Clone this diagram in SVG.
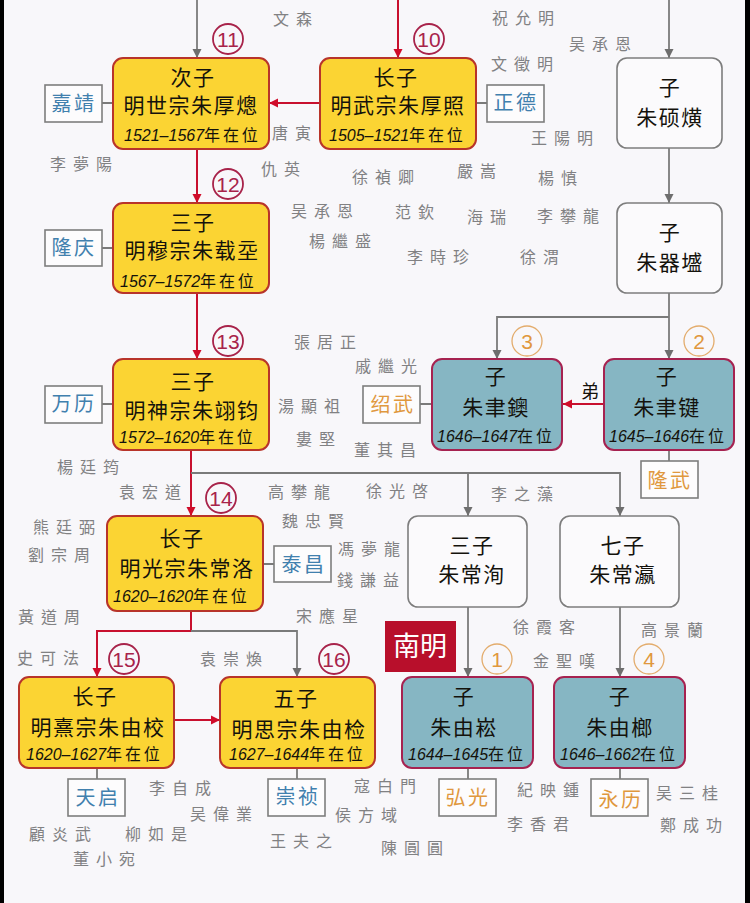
<svg xmlns="http://www.w3.org/2000/svg" width="750" height="903" viewBox="0 0 750 903">
<style>
text{font-family:"Noto Sans CJK SC","Noto Sans CJK TC",sans-serif}
.y{fill:#fbd433;stroke:#b8342a;stroke-width:2}
.t{fill:#86b6c3;stroke:#a62250;stroke-width:2}
.w{fill:#fbfafc;stroke:#7d7d7d;stroke-width:1.6}
.g{fill:none;stroke:#7a7a7a;stroke-width:1.8}
.r{fill:none;stroke:#c8102e;stroke-width:2}
.ag{marker-end:url(#mg)}
.ar{marker-end:url(#mr)}
.n{font-size:21px;letter-spacing:1.5px;text-anchor:middle;fill:#14120c}
.d{font-size:16px;fill:#14120c}
.d tspan{font-family:"Liberation Sans",sans-serif;font-style:italic}
.d .c{font-family:"Noto Sans CJK SC",sans-serif;font-style:normal;letter-spacing:2.8px}
.tag{fill:#fdfcfd;stroke:#7d7d7d;stroke-width:1.6}
.b{font-size:20px;letter-spacing:2.5px;text-anchor:middle;fill:#4180ae}
.o{font-size:20px;letter-spacing:2.5px;text-anchor:middle;fill:#e0983e}
.cr{fill:none;stroke:#a8234a;stroke-width:1.8}
.co{fill:none;stroke:#e3ac6c;stroke-width:1.3}
.cn{font-family:"Liberation Sans",sans-serif;font-size:21px;text-anchor:middle;fill:#a8234a}
.cno{font-family:"Liberation Sans",sans-serif;font-size:21px;text-anchor:middle;fill:#e0983e}
.p{font-family:"Noto Sans CJK TC","Noto Sans CJK SC",sans-serif;font-size:16px;letter-spacing:7px;fill:#818183}
</style>
<defs>
<marker id="mg" markerUnits="userSpaceOnUse" markerWidth="10" markerHeight="10" refX="9" refY="5" orient="auto"><path d="M0 0.5L9 5L0 9.5Z" fill="#6e6e6e"/></marker>
<marker id="mr" markerUnits="userSpaceOnUse" markerWidth="10" markerHeight="10" refX="9" refY="5" orient="auto"><path d="M0 0.5L9 5L0 9.5Z" fill="#d00c2a"/></marker>
</defs>
<rect width="750" height="903" fill="#f8f7fa"/>
<rect width="4" height="903" fill="#000"/>
<rect x="745" width="5" height="903" fill="#000"/>

<g id="connectors">
<path class="g ag" d="M197 0V58"/>
<path class="r ar" d="M398 0V58"/>
<path class="r ar" d="M320 103H269"/>
<path class="r ar" d="M197 149V203"/>
<path class="r ar" d="M197 293V359"/>
<path class="r ar" d="M191 450V516"/>
<path class="g ag" d="M191 473H468V516"/>
<path class="g ag" d="M468 473H620V516"/>
<path class="g ag" d="M669 0V58"/>
<path class="g ag" d="M669 148V203"/>
<path class="g ag" d="M669 293V359"/>
<path class="g ag" d="M669 317H497V359"/>
<path class="r ar" d="M604 404H563"/>
<path class="g" d="M669 450V461"/>
<path class="r" d="M191 611V631"/>
<path class="r ar" d="M191 631H97V677"/>
<path class="g ag" d="M191 631H297V677"/>
<path class="r ar" d="M174 720H220"/>
<path class="g ag" d="M468 607V677"/>
<path class="g ag" d="M620 607V677"/>
<path class="g" d="M102 103H113M476 103H487M102 248H113M102 404H113M263 564H274M420 404H432M97 768V779M297 768V779M468 768V779M620 768V779"/>
</g>

<g id="node-shizong"><rect class="y" x="113" y="58" width="156" height="91" rx="10"/><text class="n" x="193" y="85">次子</text><text class="n" x="191" y="113">明世宗朱厚熜</text><text class="d" x="124" y="141"><tspan>1521–1567</tspan><tspan class="c">年在位</tspan></text></g>
<g id="node-wuzong"><rect class="y" x="320" y="58" width="156" height="91" rx="10"/><text class="n" x="396" y="85">长子</text><text class="n" x="398" y="113">明武宗朱厚照</text><text class="d" x="329" y="141"><tspan>1505–1521</tspan><tspan class="c">年在位</tspan></text></g>
<g id="node-shuohuang"><rect class="w" x="617" y="58" width="105" height="90" rx="10"/><text class="n" x="670" y="95">子</text><text class="n" x="670" y="125">朱硕熿</text></g>
<g id="node-muzong"><rect class="y" x="113" y="203" width="156" height="90" rx="10"/><text class="n" x="193" y="230">三子</text><text class="n" x="192" y="258">明穆宗朱载坖</text><text class="d" x="120" y="287"><tspan>1567–1572</tspan><tspan class="c">年在位</tspan></text></g>
<g id="node-qicheng"><rect class="w" x="617" y="203" width="105" height="90" rx="10"/><text class="n" x="670" y="240">子</text><text class="n" x="670" y="270">朱器墭</text></g>
<g id="node-shenzong"><rect class="y" x="113" y="359" width="156" height="91" rx="10"/><text class="n" x="193" y="389">三子</text><text class="n" x="192" y="418">明神宗朱翊钧</text><text class="d" x="119" y="443"><tspan>1572–1620</tspan><tspan class="c">年在位</tspan></text></g>
<g id="node-yuyue"><rect class="t" x="432" y="359" width="130" height="91" rx="10"/><text class="n" x="496" y="384">子</text><text class="n" x="496" y="415">朱聿鐭</text><text class="d" x="437" y="442"><tspan>1646–1647</tspan><tspan class="c">在位</tspan></text></g>
<g id="node-yujian"><rect class="t" x="604" y="359" width="130" height="91" rx="10"/><text class="n" x="667" y="384">子</text><text class="n" x="667" y="415">朱聿键</text><text class="d" x="609" y="442"><tspan>1645–1646</tspan><tspan class="c">在位</tspan></text></g>
<g id="node-guangzong"><rect class="y" x="107" y="516" width="156" height="95" rx="10"/><text class="n" x="182" y="546">长子</text><text class="n" x="187" y="576">明光宗朱常洛</text><text class="d" x="113" y="602"><tspan>1620–1620</tspan><tspan class="c">年在位</tspan></text></g>
<g id="node-changxun"><rect class="w" x="408" y="516" width="119" height="91" rx="10"/><text class="n" x="472" y="553">三子</text><text class="n" x="472" y="582">朱常洵</text></g>
<g id="node-changying"><rect class="w" x="560" y="516" width="119" height="91" rx="10"/><text class="n" x="623" y="553">七子</text><text class="n" x="623" y="582">朱常瀛</text></g>
<g id="node-xizong"><rect class="y" x="19" y="677" width="155" height="91" rx="10"/><text class="n" x="95" y="704">长子</text><text class="n" x="98" y="735">明熹宗朱由校</text><text class="d" x="26" y="760"><tspan>1620–1627</tspan><tspan class="c">年在位</tspan></text></g>
<g id="node-sizong"><rect class="y" x="220" y="677" width="155" height="91" rx="10"/><text class="n" x="296" y="706">五子</text><text class="n" x="299" y="737">明思宗朱由检</text><text class="d" x="229" y="760"><tspan>1627–1644</tspan><tspan class="c">年在位</tspan></text></g>
<g id="node-yousong"><rect class="t" x="402" y="677" width="131" height="91" rx="10"/><text class="n" x="464" y="704">子</text><text class="n" x="464" y="735">朱由崧</text><text class="d" x="408" y="760"><tspan>1644–1645</tspan><tspan class="c">在位</tspan></text></g>
<g id="node-youlang"><rect class="t" x="554" y="677" width="131" height="91" rx="10"/><text class="n" x="620" y="704">子</text><text class="n" x="620" y="735">朱由榔</text><text class="d" x="560" y="760"><tspan>1646–1662</tspan><tspan class="c">在位</tspan></text></g>

<g id="tag-jiajing"><rect class="tag" x="45" y="85" width="57" height="37"/><text class="b" x="74" y="111">嘉靖</text></g>
<g id="tag-zhengde"><rect class="tag" x="487" y="85" width="57" height="37"/><text class="b" x="516" y="110">正德</text></g>
<g id="tag-longqing"><rect class="tag" x="45" y="230" width="57" height="36"/><text class="b" x="74" y="255">隆庆</text></g>
<g id="tag-wanli"><rect class="tag" x="45" y="386" width="57" height="37"/><text class="b" x="74" y="411">万历</text></g>
<g id="tag-taichang"><rect class="tag" x="274" y="546" width="57" height="36"/><text class="b" x="304" y="572">泰昌</text></g>
<g id="tag-shaowu"><rect class="tag" x="363" y="386" width="57" height="37"/><text class="o" x="393" y="412">绍武</text></g>
<g id="tag-longwu"><rect class="tag" x="641" y="461" width="57" height="37"/><text class="o" x="670" y="488">隆武</text></g>
<g id="tag-tianqi"><rect class="tag" x="68" y="779" width="57" height="37"/><text class="b" x="98" y="805">天启</text></g>
<g id="tag-chongzhen"><rect class="tag" x="268" y="779" width="57" height="37"/><text class="b" x="298" y="804">崇祯</text></g>
<g id="tag-hongguang"><rect class="tag" x="439" y="779" width="57" height="37"/><text class="o" x="468" y="805">弘光</text></g>
<g id="tag-yongli"><rect class="tag" x="591" y="779" width="57" height="37"/><text class="o" x="621" y="807">永历</text></g>

<g id="orders">
<circle class="cr" cx="228" cy="39" r="15"/><text class="cn" x="228" y="47">11</text>
<circle class="cr" cx="429" cy="39" r="15"/><text class="cn" x="429" y="47">10</text>
<circle class="cr" cx="228" cy="184" r="15"/><text class="cn" x="228" y="192">12</text>
<circle class="cr" cx="228" cy="341" r="15"/><text class="cn" x="228" y="349">13</text>
<circle class="cr" cx="221" cy="498" r="15"/><text class="cn" x="221" y="506">14</text>
<circle class="cr" cx="124" cy="659" r="15"/><text class="cn" x="124" y="667">15</text>
<circle class="cr" cx="334" cy="659" r="15"/><text class="cn" x="334" y="667">16</text>
<circle class="co" cx="527" cy="341" r="15"/><text class="cno" x="527" y="349">3</text>
<circle class="co" cx="699" cy="341" r="15"/><text class="cno" x="699" y="349">2</text>
<circle class="co" cx="497" cy="659" r="15"/><text class="cno" x="497" y="667">1</text>
<circle class="co" cx="649" cy="659" r="15"/><text class="cno" x="649" y="667">4</text>
</g>

<text x="581" y="398" font-size="18" fill="#14120c">弟</text>
<g id="nanming"><rect x="385" y="621" width="71" height="51" fill="#b80f2b"/><text x="420" y="656" font-size="27" text-anchor="middle" fill="#fff">南明</text></g>

<g id="people">
<text class="p" x="273" y="25">文森</text>
<text class="p" x="492" y="24">祝允明</text>
<text class="p" x="569" y="50">吴承恩</text>
<text class="p" x="491" y="70">文徵明</text>
<text class="p" x="531" y="144">王陽明</text>
<text class="p" x="272" y="139">唐寅</text>
<text class="p" x="50" y="170">李夢陽</text>
<text class="p" x="261" y="175">仇英</text>
<text class="p" x="352" y="183">徐禎卿</text>
<text class="p" x="457" y="177">嚴嵩</text>
<text class="p" x="538" y="184">楊慎</text>
<text class="p" x="291" y="217">吴承恩</text>
<text class="p" x="395" y="218">范欽</text>
<text class="p" x="467" y="223">海瑞</text>
<text class="p" x="537" y="222">李攀龍</text>
<text class="p" x="309" y="247">楊繼盛</text>
<text class="p" x="407" y="263">李時珍</text>
<text class="p" x="520" y="263">徐渭</text>
<text class="p" x="294" y="348">張居正</text>
<text class="p" x="355" y="372">戚繼光</text>
<text class="p" x="278" y="412">湯顯祖</text>
<text class="p" x="296" y="445">婁堅</text>
<text class="p" x="354" y="456">董其昌</text>
<text class="p" x="57" y="473">楊廷筠</text>
<text class="p" x="119" y="498">袁宏道</text>
<text class="p" x="268" y="498">高攀龍</text>
<text class="p" x="366" y="497">徐光啓</text>
<text class="p" x="491" y="500">李之藻</text>
<text class="p" x="282" y="527">魏忠賢</text>
<text class="p" x="33" y="533">熊廷弼</text>
<text class="p" x="338" y="555">馮夢龍</text>
<text class="p" x="28" y="561">劉宗周</text>
<text class="p" x="337" y="586">錢謙益</text>
<text class="p" x="18" y="623">黃道周</text>
<text class="p" x="296" y="622">宋應星</text>
<text class="p" x="17" y="664">史可法</text>
<text class="p" x="200" y="665">袁崇煥</text>
<text class="p" x="513" y="633">徐霞客</text>
<text class="p" x="641" y="636">高景蘭</text>
<text class="p" x="533" y="667">金聖嘆</text>
<text class="p" x="149" y="794">李自成</text>
<text class="p" x="190" y="820">吴偉業</text>
<text class="p" x="354" y="792">寇白門</text>
<text class="p" x="335" y="821">侯方域</text>
<text class="p" x="517" y="796">紀映鍾</text>
<text class="p" x="656" y="799">吴三桂</text>
<text class="p" x="660" y="831">鄭成功</text>
<text class="p" x="507" y="830">李香君</text>
<text class="p" x="29" y="840">顧炎武</text>
<text class="p" x="125" y="840">柳如是</text>
<text class="p" x="270" y="847">王夫之</text>
<text class="p" x="73" y="865">董小宛</text>
<text class="p" x="381" y="854">陳圓圓</text>
</g>
</svg>
